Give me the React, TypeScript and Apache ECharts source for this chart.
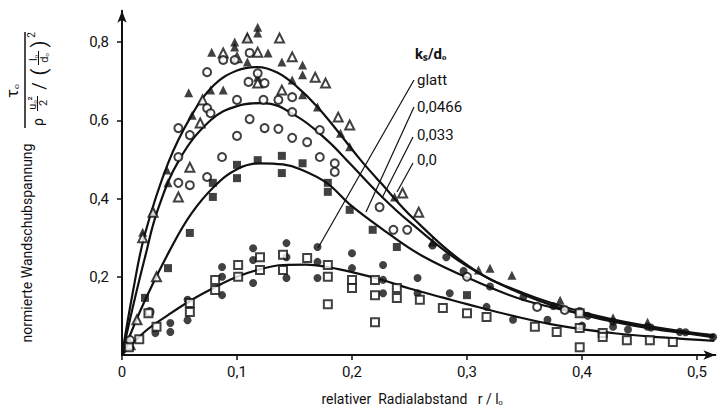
import React, { useEffect, useRef } from "react";
import * as echarts from "echarts";

// Curves (x = r/l0, y = normalised wall shear stress)
const curveGlatt: number[][] = [[0,0],[0.01,0.17],[0.02,0.31],[0.04,0.49],[0.06,0.61],[0.08,0.69],[0.1,0.727],[0.118,0.736],[0.135,0.722],[0.152,0.686],[0.17,0.634],[0.19,0.563],[0.207,0.5],[0.225,0.44],[0.253,0.35],[0.3,0.23],[0.34,0.166],[0.383,0.118],[0.427,0.085],[0.47,0.063],[0.515,0.05]];
const curve0466: number[][] = [[0,0],[0.01,0.13],[0.02,0.25],[0.031,0.37],[0.05,0.5],[0.077,0.6],[0.1,0.636],[0.123,0.644],[0.152,0.61],[0.178,0.55],[0.198,0.49],[0.224,0.41],[0.25,0.34],[0.3,0.227],[0.35,0.157],[0.4,0.11],[0.45,0.078],[0.515,0.05]];
const curve033: number[][] = [[0,0],[0.02,0.14],[0.042,0.27],[0.06,0.36],[0.08,0.43],[0.1,0.475],[0.12,0.49],[0.14,0.487],[0.155,0.475],[0.178,0.44],[0.198,0.385],[0.224,0.327],[0.26,0.255],[0.311,0.184],[0.35,0.14],[0.4,0.105],[0.45,0.075],[0.515,0.045]];
const curve00: number[][] = [[0,0],[0.02,0.06],[0.04,0.102],[0.06,0.14],[0.08,0.172],[0.1,0.2],[0.12,0.219],[0.14,0.23],[0.16,0.231],[0.18,0.224],[0.2,0.212],[0.225,0.193],[0.25,0.17],[0.28,0.146],[0.3,0.13],[0.34,0.1],[0.38,0.075],[0.43,0.055],[0.47,0.045],[0.515,0.036]];

// Measured points by marker type
const triFilled: number[][] = [[0.007,0.03],[0.018,0.314],[0.027,0.365],[0.039,0.473],[0.04,0.44],[0.058,0.67],[0.061,0.613],[0.077,0.677],[0.078,0.774],[0.088,0.677],[0.098,0.8],[0.098,0.787],[0.109,0.813],[0.109,0.749],[0.118,0.838],[0.118,0.823],[0.118,0.71],[0.127,0.772],[0.139,0.749],[0.148,0.703],[0.157,0.741],[0.157,0.716],[0.157,0.665],[0.17,0.634],[0.19,0.567],[0.198,0.532],[0.237,0.404],[0.27,0.289],[0.31,0.217],[0.32,0.222],[0.339,0.204],[0.381,0.14],[0.427,0.095],[0.457,0.084]];
const triEmpty: number[][] = [[0.007,0.026],[0.013,0.09],[0.018,0.3],[0.03,0.2],[0.027,0.365],[0.049,0.404],[0.059,0.48],[0.068,0.593],[0.07,0.652],[0.088,0.772],[0.1,0.76],[0.109,0.81],[0.118,0.774],[0.118,0.695],[0.137,0.81],[0.139,0.677],[0.148,0.762],[0.168,0.71],[0.177,0.695],[0.188,0.608],[0.198,0.588],[0.244,0.414],[0.258,0.365]];
const circEmpty: number[][] = [[0.007,0.038],[0.024,0.11],[0.049,0.58],[0.049,0.506],[0.049,0.44],[0.059,0.562],[0.059,0.434],[0.074,0.723],[0.074,0.631],[0.074,0.455],[0.077,0.618],[0.087,0.506],[0.088,0.754],[0.098,0.754],[0.1,0.652],[0.1,0.56],[0.11,0.698],[0.111,0.772],[0.111,0.603],[0.118,0.72],[0.123,0.652],[0.124,0.695],[0.124,0.58],[0.136,0.652],[0.136,0.578],[0.148,0.659],[0.148,0.621],[0.148,0.555],[0.161,0.544],[0.172,0.575],[0.172,0.506],[0.185,0.49],[0.185,0.468],[0.224,0.378],[0.236,0.32],[0.248,0.32],[0.3,0.2],[0.361,0.123],[0.385,0.115],[0.398,0.11]];
const squareFilled: number[][] = [[0.02,0.146],[0.04,0.222],[0.059,0.312],[0.079,0.44],[0.079,0.404],[0.1,0.486],[0.1,0.452],[0.118,0.498],[0.139,0.509],[0.139,0.465],[0.157,0.49],[0.179,0.44],[0.179,0.417],[0.198,0.371],[0.218,0.32],[0.239,0.276],[0.3,0.153]];
const circFilled: number[][] = [[0.029,0.056],[0.042,0.082],[0.042,0.059],[0.057,0.141],[0.057,0.089],[0.087,0.225],[0.087,0.2],[0.087,0.153],[0.114,0.273],[0.114,0.243],[0.114,0.184],[0.143,0.286],[0.143,0.25],[0.143,0.197],[0.17,0.276],[0.17,0.238],[0.17,0.197],[0.2,0.26],[0.2,0.222],[0.227,0.23],[0.227,0.192],[0.227,0.158],[0.257,0.197],[0.257,0.158],[0.285,0.158],[0.317,0.123],[0.34,0.09],[0.37,0.09],[0.4,0.075],[0.427,0.072],[0.44,0.065],[0.457,0.072],[0.485,0.059],[0.514,0.046],[0.27,0.28],[0.282,0.25],[0.297,0.215],[0.32,0.175],[0.349,0.148],[0.375,0.125],[0.405,0.1],[0.427,0.085],[0.46,0.07],[0.49,0.058]];
const squareEmpty: number[][] = [[0.006,0.02],[0.015,0.04],[0.023,0.107],[0.03,0.072],[0.059,0.133],[0.059,0.11],[0.081,0.192],[0.081,0.166],[0.101,0.23],[0.101,0.2],[0.12,0.25],[0.12,0.217],[0.14,0.256],[0.14,0.217],[0.161,0.248],[0.179,0.23],[0.179,0.2],[0.179,0.13],[0.2,0.192],[0.2,0.171],[0.22,0.192],[0.22,0.153],[0.22,0.084],[0.239,0.171],[0.239,0.146],[0.259,0.141],[0.279,0.12],[0.3,0.107],[0.317,0.097],[0.359,0.072],[0.378,0.059],[0.398,0.107],[0.398,0.069],[0.398,0.02],[0.418,0.056],[0.418,0.046],[0.439,0.038],[0.459,0.038],[0.479,0.033]];

const xTicks = [0, 0.1, 0.2, 0.3, 0.4, 0.5];
const yTicks = [0.2, 0.4, 0.6, 0.8];
const curveLabels = ["glatt", "0,0466", "0,033", "0,0"];

const FONT = "Roboto";
const INK = "#111";

export default function App() {
  const ref = useRef<HTMLDivElement>(null);
  useEffect(() => {
    if (!ref.current) return;
    const chart = echarts.init(ref.current, undefined, { renderer: "svg" });
    const fmt = (v: number) => (v === 0 ? "0" : v.toFixed(1).replace(".", ","));
    const lineSeries = (data: number[][]) => ({
      type: "line",
      data,
      smooth: 0.4,
      showSymbol: false,
      symbol: "none",
      lineStyle: { color: INK, width: 2.2 },
      z: 3,
    });
    const scatter = (data: number[][], symbol: string, size: number) => ({
      type: "scatter",
      data,
      symbol,
      symbolSize: size,
      itemStyle: symbol.startsWith("empty")
        ? { color: INK, borderColor: INK, borderWidth: 1.6 }
        : { color: INK },
      z: 4,
    });
    const rtext = (x: number, y: number, text: string, size: number) => ({
      type: "text",
      x,
      y,
      rotation: Math.PI / 2,
      style: { text, fontSize: size, fontFamily: FONT, fill: INK, align: "center", verticalAlign: "middle" },
    });
    const vline = (x: number, y1: number, y2: number, w: number) => ({
      type: "line",
      shape: { x1: x, y1, x2: x, y2 },
      style: { stroke: INK, lineWidth: w },
    });
    const labelY = [80, 107, 135, 160];
    const leaders = [
      [414, 80, 318, 248],
      [414, 107, 366, 212],
      [413, 137, 382, 198],
      [413, 163, 397, 192],
    ];
    chart.setOption({
      animation: false,
      backgroundColor: "#fff",
      grid: { left: 122, right: 4.6, top: 10.7, bottom: 55 },
      xAxis: {
        type: "value",
        min: 0,
        max: 0.516,
        splitLine: { show: false },
        axisLine: { onZero: false, symbol: ["none", "arrow"], symbolSize: [7, 12], lineStyle: { color: INK, width: 2 } },
        axisTick: { customValues: xTicks, length: 5, lineStyle: { color: INK, width: 1.5 } },
        axisLabel: { customValues: xTicks, formatter: fmt, color: INK, fontSize: 15, fontFamily: FONT, margin: 9 },
      },
      yAxis: {
        type: "value",
        min: 0,
        max: 0.88,
        splitLine: { show: false },
        axisLine: { onZero: false, symbol: ["none", "arrow"], symbolSize: [7, 12], lineStyle: { color: INK, width: 2 } },
        axisTick: { customValues: yTicks, length: 5, lineStyle: { color: INK, width: 1.5 } },
        axisLabel: { customValues: yTicks, formatter: fmt, color: INK, fontSize: 15, fontFamily: FONT, margin: 13 },
      },
      series: [
        lineSeries(curveGlatt),
        lineSeries(curve0466),
        lineSeries(curve033),
        lineSeries(curve00),
        scatter(triFilled, "triangle", 9),
        scatter(triEmpty, "emptyTriangle", 9),
        scatter(circEmpty, "emptyCircle", 8),
        scatter(squareFilled, "rect", 8),
        scatter(circFilled, "circle", 8),
        scatter(squareEmpty, "emptyRect", 8),
      ],
      graphic: [
        ...leaders.map((l) => ({
          type: "line",
          shape: { x1: l[0], y1: l[1], x2: l[2], y2: l[3] },
          style: { stroke: INK, lineWidth: 1.2 },
          z: 10,
        })),
        {
          type: "text",
          x: 415,
          y: 54,
          style: { text: "kₛ/dₒ", fontSize: 15, fontFamily: FONT, fill: INK, verticalAlign: "middle", fontWeight: "bold" },
          z: 10,
        },
        ...curveLabels.map((t, i) => ({
          type: "text",
          x: 417,
          y: labelY[i],
          style: { text: t, fontSize: 15, fontFamily: FONT, fill: INK, verticalAlign: "middle" },
          z: 10,
        })),
        {
          type: "text",
          x: 412,
          y: 399,
          style: { text: "relativer  Radialabstand   r / lₒ", fontSize: 14, fontFamily: FONT, fill: INK, align: "center", verticalAlign: "middle" },
        },
        rtext(27, 243, "normierte Wandschubspannung", 14),
        // y-axis quantity: tau_o / ( rho * u_o^2/2 / (l_o/d_o)^2 )
        rtext(12, 91, "τₒ", 17),
        vline(25, 32, 128, 1.5),
        rtext(38, 122, "ρ", 14),
        rtext(32, 103, "uₒ²", 11),
        vline(37.5, 96, 111, 1),
        rtext(43, 103, "2", 11),
        rtext(38, 86, "/", 18),
        rtext(39, 72, "(", 20),
        rtext(33, 58, "lₒ", 11),
        vline(38.5, 51, 65, 1),
        rtext(44, 58, "dₒ", 11),
        rtext(39, 44, ")", 20),
        rtext(31, 35, "2", 10),
      ],
    });
    return () => chart.dispose();
  }, []);
  return (
    <div
      ref={ref}
      style={{ position: "absolute", left: 0, top: 0, width: 720, height: 410, background: "#fff" }}
    />
  );
}
